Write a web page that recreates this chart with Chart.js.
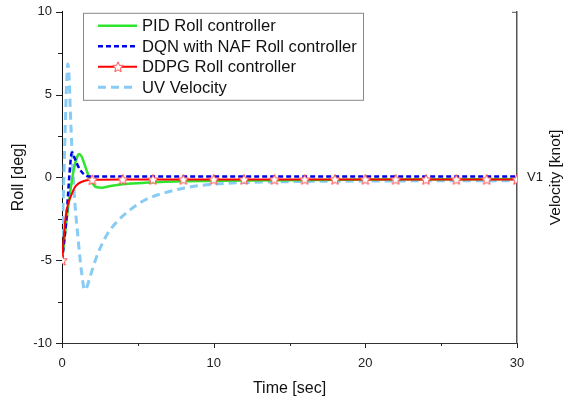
<!DOCTYPE html>
<html>
<head>
<meta charset="utf-8">
<script src="https://cdn.jsdelivr.net/npm/chart.js@4"></script>
<style>
  html, body { margin: 0; padding: 0; background: #fff; }
  canvas { display: block; }
</style>
</head>
<body>
<canvas id="rollChart" width="577" height="402"></canvas>
<script>
// Values
const timeTicks = [0, 10, 20, 30];
const timeMinorTicks = [5, 15, 25];
const rollTicks = [-10, -5, 0, 5, 10];
const rollMinorTicks = [-7.5, -2.5, 2.5, 7.5];
const velocityTickLabels = ['V1'];

const pidTime = [0, 0.15, 0.3, 0.45, 0.6, 0.75, 0.9, 1.05, 1.15, 1.3, 1.5, 1.75, 2.0, 2.3, 2.6, 3.2, 4, 5, 6.5, 8, 12, 20, 30];
const pidRoll = [-5, -3.8, -2.6, -1.5, -0.5, 0.35, 0.95, 1.35, 1.42, 1.25, 0.75, 0.1, -0.35, -0.6, -0.62, -0.52, -0.42, -0.35, -0.28, -0.24, -0.18, -0.13, -0.1];

const dqnTime = [0, 0.15, 0.3, 0.4, 0.5, 0.6, 0.67, 0.8, 1.0, 1.2, 1.5, 1.8, 3, 30];
const dqnRoll = [-5, -3.8, -2.4, -1.0, 0.3, 1.3, 1.5, 1.25, 0.8, 0.45, 0.15, 0.06, 0.05, 0.05];

const ddpgTime = [0, 0.1, 0.25, 0.4, 0.6, 0.85, 1.1, 1.5, 2, 4, 6, 8, 10, 12, 14, 16, 18, 20, 22, 24, 26, 28, 30];
const ddpgRoll = [-5, -3.8, -2.3, -1.6, -1.1, -0.6, -0.36, -0.2, -0.14, -0.12, -0.12, -0.12, -0.12, -0.12, -0.12, -0.12, -0.12, -0.12, -0.12, -0.12, -0.12, -0.12, -0.12];

const uvTime = [0, 0.1, 0.2, 0.3, 0.38, 0.46, 0.55, 0.66, 0.8, 1.05, 1.3, 1.5, 1.65, 1.85, 2.2, 2.5, 3, 3.6, 4.5, 5.5, 6.7, 8, 9, 11, 14, 20, 30];
const uvVelocity = [-3.6, -0.8, 2.6, 5.6, 6.85, 6.2, 4.0, 1.6, -0.9, -3.6, -5.8, -6.8, -6.6, -6.0, -5.0, -4.3, -3.4, -2.7, -1.95, -1.35, -0.95, -0.65, -0.5, -0.35, -0.27, -0.22, -0.2];

const FONT = 'Liberation Sans, Arial, sans-serif';

function toPoints(xs, ys) {
  return xs.map((t, i) => ({ x: t, y: ys[i] }));
}

// open star marker
function makeStar(r, fill, stroke) {
  const c = document.createElement('canvas');
  const s = Math.ceil(r * 2 + 3);
  c.width = s; c.height = s;
  const g = c.getContext('2d');
  g.translate(s / 2, s / 2 + 0.5);
  g.beginPath();
  for (let i = 0; i < 10; i++) {
    const rad = i % 2 ? r * 0.45 : r;
    const ang = -Math.PI / 2 + i * Math.PI / 5;
    g.lineTo(rad * Math.cos(ang), rad * Math.sin(ang));
  }
  g.closePath();
  g.fillStyle = fill;
  g.fill();
  g.strokeStyle = stroke;
  g.lineWidth = 1;
  g.stroke();
  return c;
}
const starImg = makeStar(5.5, '#ffffff', '#ff4a4a');

// minor + major tick marks (Chart.js has no minor ticks), plus the right title
const tickMarks = {
  id: 'tickMarks',
  afterDraw(chart) {
    const { ctx, chartArea: a, scales: { x, y } } = chart;
    ctx.save();
    ctx.strokeStyle = '#222';
    ctx.lineWidth = 1;
    ctx.beginPath();
    rollTicks.concat(rollMinorTicks).forEach(v => {
      const py = Math.round(y.getPixelForValue(v)) + 0.5;
      const len = rollTicks.includes(v) ? 6 : 4;
      ctx.moveTo(a.left - len, py);
      ctx.lineTo(a.left, py);
    });
    timeTicks.concat(timeMinorTicks).forEach(t => {
      const px = Math.round(x.getPixelForValue(t)) + 0.5;
      const len = timeTicks.includes(t) ? 5 : 3;
      ctx.moveTo(px, a.bottom);
      ctx.lineTo(px, a.bottom + len);
    });
    ctx.stroke();
    // little tick at top of velocity axis
    ctx.strokeStyle = '#555';
    ctx.beginPath();
    ctx.moveTo(a.right - 5, a.top + 0.5);
    ctx.lineTo(a.right, a.top + 0.5);
    ctx.stroke();
    // velocity axis title, reading bottom to top like the left one
    ctx.translate(a.right + 39, (a.top + a.bottom) / 2);
    ctx.rotate(-Math.PI / 2);
    ctx.font = '15.5px ' + FONT;
    ctx.fillStyle = '#111';
    ctx.textAlign = 'center';
    ctx.textBaseline = 'middle';
    ctx.fillText('Velocity [knot]', 0, 0);
    ctx.restore();
  }
};

// boxed legend with line samples
const boxLegend = {
  id: 'boxLegend',
  afterDraw(chart) {
    const { ctx, chartArea: a } = chart;
    const order = [1, 2, 0, 3];
    const bx = a.left + 21, by = a.top + 1, bw = 280, bh = 87;
    ctx.save();
    ctx.fillStyle = '#fff';
    ctx.fillRect(bx, by, bw, bh);
    ctx.strokeStyle = '#888';
    ctx.lineWidth = 1;
    ctx.strokeRect(bx + 0.5, by + 0.5, bw, bh);
    ctx.font = '16.6px ' + FONT;
    ctx.textBaseline = 'middle';
    order.forEach((di, row) => {
      const ds = chart.data.datasets[di];
      const ly = by + 13 + row * 20.5;
      ctx.beginPath();
      ctx.setLineDash(ds.borderDash || []);
      ctx.strokeStyle = ds.borderColor;
      ctx.lineWidth = ds.borderWidth;
      ctx.moveTo(bx + 15, ly);
      ctx.lineTo(bx + 54, ly);
      ctx.stroke();
      ctx.setLineDash([]);
      if (ds.label.startsWith('DDPG')) {
        ctx.drawImage(starImg, bx + 35 - starImg.width / 2, ly - starImg.height / 2);
      }
      ctx.fillStyle = '#111';
      ctx.fillText(ds.label, bx + 59, ly + 1);
    });
    ctx.restore();
  }
};

new Chart(document.getElementById('rollChart'), {
  type: 'line',
  data: {
    datasets: [
      {
        label: 'DDPG Roll controller',
        data: toPoints(ddpgTime, ddpgRoll),
        borderColor: '#ff0000',
        borderWidth: 2,
        pointStyle: starImg,
        pointRadius: ctx => (ctx.raw && ctx.raw.x % 2 === 0 ? 5 : 0),
        cubicInterpolationMode: 'monotone',
        order: 0
      },
      {
        label: 'PID Roll controller',
        data: toPoints(pidTime, pidRoll),
        borderColor: '#2ee62e',
        borderWidth: 2.5,
        pointRadius: 0,
        cubicInterpolationMode: 'monotone',
        order: 2
      },
      {
        label: 'DQN with NAF Roll controller',
        data: toPoints(dqnTime, dqnRoll),
        borderColor: '#0000e6',
        borderWidth: 2.5,
        borderDash: [5, 3],
        pointRadius: 0,
        cubicInterpolationMode: 'monotone',
        order: 1
      },
      {
        label: 'UV Velocity',
        data: toPoints(uvTime, uvVelocity),
        borderColor: '#88ccf5',
        borderWidth: 3,
        borderDash: [8, 5],
        pointRadius: 0,
        cubicInterpolationMode: 'monotone',
        yAxisID: 'y2',
        order: 3
      }
    ]
  },
  options: {
    responsive: false,
    animation: false,
    devicePixelRatio: 1,
    layout: { padding: { top: 10 } },
    plugins: {
      legend: { display: false },
      tooltip: { enabled: false }
    },
    scales: {
      x: {
        type: 'linear',
        min: 0,
        max: 30,
        afterBuildTicks: s => { s.ticks = timeTicks.map(v => ({ value: v })); },
        afterFit: s => { s.height = 59; },
        grid: { display: false, drawTicks: true, tickLength: 5 },
        border: { display: true, color: '#333', width: 1 },
        ticks: { color: '#222', font: { size: 13, family: FONT }, padding: 8, maxRotation: 0 },
        title: { display: true, text: 'Time [sec]', color: '#111', font: { size: 16, family: FONT }, padding: { top: 0, bottom: 4 } }
      },
      y: {
        position: 'left',
        min: -10,
        max: 10,
        afterBuildTicks: s => { s.ticks = rollTicks.map(v => ({ value: v })); },
        afterFit: s => { s.width = 62; },
        grid: { display: false, drawTicks: true, tickLength: 6 },
        border: { display: true, color: '#111', width: 1 },
        ticks: { color: '#222', font: { size: 13, family: FONT }, padding: 4 },
        title: { display: true, text: 'Roll [deg]', color: '#111', font: { size: 16, family: FONT }, padding: { top: 9, bottom: 0 } }
      },
      y2: {
        position: 'right',
        min: -10,
        max: 10,
        afterBuildTicks: s => { s.ticks = [{ value: 0 }]; },
        afterFit: s => { s.width = 60; },
        grid: { display: false, drawTicks: true, tickLength: 6 },
        border: { display: true, color: '#555', width: 1.5 },
        ticks: { color: '#222', font: { size: 13, family: FONT }, padding: 4, callback: () => velocityTickLabels[0] },
        title: { display: false }
      }
    }
  },
  plugins: [tickMarks, boxLegend]
});
</script>
</body>
</html>
